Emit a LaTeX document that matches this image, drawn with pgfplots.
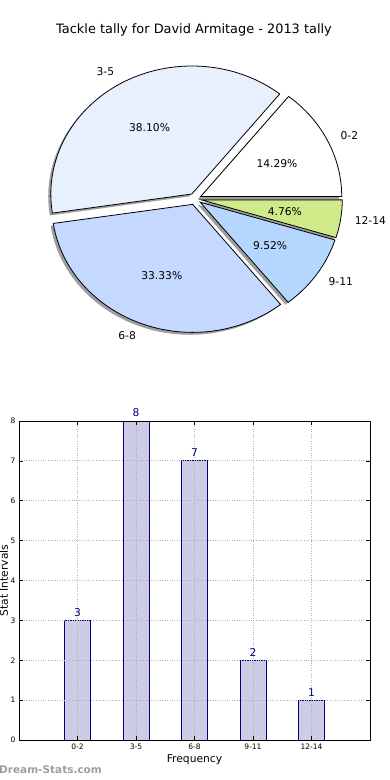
\documentclass[border=0pt]{standalone}
\usepackage{pgfplots}
\usepackage{pgfplotstable}
\pgfplotsset{compat=1.18}
\usepackage{fontspec}
\setmainfont{DejaVu Sans}
\definecolor{c02}{RGB}{255,255,255}
\definecolor{c35}{RGB}{232,240,254}
\definecolor{c68}{RGB}{197,216,255}
\definecolor{c911}{RGB}{180,214,255}
\definecolor{c1214}{RGB}{208,234,138}
\definecolor{barfill}{RGB}{204,205,228}
\definecolor{navyc}{RGB}{0,0,128}

\pgfplotstableread{
label value color
0-2 3 c02
3-5 8 c35
6-8 7 c68
9-11 2 c911
12-14 1 c1214
}\piedata

\newcommand\piefont{\fontsize{10.7bp}{12bp}\selectfont}
\def\pcx{195}
\def\pcy{581}
\def\prx{141}
\def\pry{128}
\def\ex{0.045}

\newcommand\pieparts[1]{%
  \def\cum{0}%
  \pgfplotsforeachungrouped \i in {0,...,4}{%
    \pgfplotstablegetelem{\i}{value}\of\piedata \let\val\pgfplotsretval
    \pgfplotstablegetelem{\i}{label}\of\piedata \let\lab\pgfplotsretval
    \pgfplotstablegetelem{\i}{color}\of\piedata \let\col\pgfplotsretval
    \pgfmathsetmacro\aS{360*\cum/\tot}%
    \pgfmathsetmacro\cumN{\cum+\val}%
    \pgfmathsetmacro\aE{360*\cumN/\tot}%
    \let\cum\cumN
    \pgfmathsetmacro\mid{(\aS+\aE)/2}%
    \pgfmathsetmacro\cx{\pcx+\ex*\prx*cos(\mid)}%
    \pgfmathsetmacro\cy{\pcy+\ex*\pry*sin(\mid)}%
    \pgfmathsetmacro\sx{\cx+\prx*cos(\aS)}%
    \pgfmathsetmacro\sy{\cy+\pry*sin(\aS)}%
    \pgfmathsetmacro\lx{\cx+1.1*\prx*cos(\mid)}%
    \pgfmathsetmacro\ly{\cy+1.1*\pry*sin(\mid)}%
    \pgfmathsetmacro\qx{\cx+0.6*\prx*cos(\mid)}%
    \pgfmathsetmacro\qy{\cy+0.6*\pry*sin(\mid)}%
    \pgfmathsetmacro\pc{100*\val/\tot}%
    \pgfmathparse{cos(\mid)}%
    \ifdim\pgfmathresult pt>0pt \def\lanc{west}\else\def\lanc{east}\fi
    \ifnum#1=0
      \edef\tmp{\noexpand\fill[black,fill opacity=0.38,shift={(-2.6bp,-2.4bp)}]
        (axis cs:\cx,\cy) -- (axis cs:\sx,\sy)
        arc[start angle=\aS, end angle=\aE, x radius=\prx bp, y radius=\pry bp] -- cycle;}%
      \tmp
    \else
      \edef\tmp{\noexpand\filldraw[fill=\col,draw=black,line width=0.8bp]
        (axis cs:\cx,\cy) -- (axis cs:\sx,\sy)
        arc[start angle=\aS, end angle=\aE, x radius=\prx bp, y radius=\pry bp] -- cycle;
        \noexpand\node[anchor=\lanc,font=\noexpand\piefont,inner sep=0pt] at (axis cs:\lx,\ly) {\lab};
        \noexpand\node[font=\noexpand\piefont,inner sep=0pt] at (axis cs:\qx,\qy)
          {\noexpand\pgfmathprintnumber[fixed,fixed zerofill,precision=2,assume math mode=true]{\pc}\noexpand\%};}%
      \tmp
    \fi
  }%
}

\begin{document}
\begin{tikzpicture}
\path[use as bounding box] (0,0) rectangle (390bp,780bp);
\def\tot{0}%
\pgfplotsforeachungrouped \i in {0,...,4}{%
  \pgfplotstablegetelem{\i}{value}\of\piedata
  \pgfmathsetmacro\tot{\tot+\pgfplotsretval}}%

\node[font=\fontsize{12.9bp}{15bp}\selectfont] at (194bp,750bp) {Tackle tally for David Armitage - 2013 tally};

\begin{axis}[
  at={(0bp,400bp)}, anchor=south west,
  scale only axis, width=390bp, height=380bp,
  xmin=0, xmax=390, ymin=400, ymax=780,
  axis lines=none, clip=false]
  \pieparts{0}
  \pieparts{1}
\end{axis}

\begin{axis}[
  at={(19bp,40bp)}, anchor=south west,
  scale only axis, width=351bp, height=319bp,
  xmin=-1, xmax=5, ymin=0, ymax=8,
  xtick={0,...,4}, xticklabels={0-2,3-5,6-8,9-11,12-14},
  ytick={0,...,8},
  /pgf/number format/assume math mode=true,
  ticklabel style={font=\fontsize{7.5bp}{9bp}\selectfont},
  tick align=inside, major tick length=4bp,
  tick style={black, line width=0.6bp},
  axis line style={black, line width=0.9bp},
  grid=major, grid style={dotted, black!30, line width=0.8bp},
  axis on top,
  xlabel={Frequency}, ylabel={Stat Intervals},
  every axis x label/.style={at={(axis description cs:0.5,-0.0627)}, anchor=center, font=\fontsize{10.7bp}{12bp}\selectfont},
  every axis y label/.style={at={(axis description cs:-0.043,0.5)}, rotate=90, anchor=center, font=\fontsize{10.7bp}{12bp}\selectfont},
]
\addplot[ybar, bar width=26bp, fill=barfill, draw=navyc, line width=0.8bp,
  nodes near coords,
  nodes near coords style={text=navyc, font=\fontsize{10.7bp}{12bp}\selectfont, inner sep=3.5bp}]
  table[x expr=\coordindex, y=value] {\piedata};
\end{axis}

\node[anchor=west, text=black!38, font=\bfseries\fontsize{10.5bp}{12bp}\selectfont, inner sep=0pt] at (-1bp,10bp) {Dream-Stats.com};
\end{tikzpicture}
\end{document}
